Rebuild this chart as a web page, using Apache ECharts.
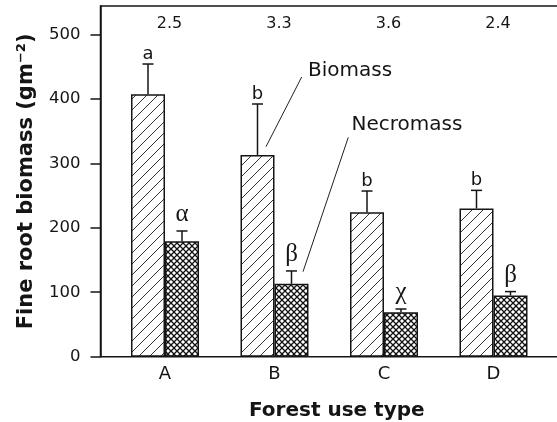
<!DOCTYPE html>
<html><head><meta charset="utf-8">
<script src="https://cdn.jsdelivr.net/npm/echarts@6/dist/echarts.min.js"></script>
<style>html,body{margin:0;padding:0;background:#fff}#c{width:557px;height:422px}</style>
</head><body><div id="c"></div>
<script>
const categories = ['A', 'B', 'C', 'D'];
const ratios = ['2.5', '3.3', '3.6', '2.4'];
const biomass = [407, 313, 224, 230];
const biomassSE = [47, 79, 33, 28];
const necromass = [179, 113, 69, 95];
const necromassSE = [16, 20, 5, 6];
const biomassLetters = ['a', 'b', 'b', 'b'];
const necromassLetters = ['α', 'β', 'χ', 'β'];
const yTicks = [0, 100, 200, 300, 400, 500];
const yMax = 544;

const FONT = 'DejaVu Sans';
const INK = '#151515';
const BAR_W = 34;

function hatchPattern() {
  const s = 11, c = document.createElement('canvas');
  c.width = s; c.height = s;
  const g = c.getContext('2d');
  g.fillStyle = '#fff'; g.fillRect(0, 0, s, s);
  g.strokeStyle = '#333'; g.lineWidth = 1;
  g.beginPath(); g.moveTo(-1, s + 1); g.lineTo(s + 1, -1); g.stroke();
  return c;
}
function crossPattern() {
  const s = 6, c = document.createElement('canvas');
  c.width = s; c.height = s;
  const g = c.getContext('2d');
  g.fillStyle = '#fff'; g.fillRect(0, 0, s, s);
  g.strokeStyle = '#111'; g.lineWidth = 1.3;
  g.beginPath();
  g.moveTo(-1, s + 1); g.lineTo(s + 1, -1);
  g.moveTo(-1, -1); g.lineTo(s + 1, s + 1);
  g.stroke();
  return c;
}

function errSeries(means, ses, letters, off, letterFont, lift) {
  return {
    type: 'custom', xAxisIndex: 1, yAxisIndex: 1, z: 5, silent: true,
    data: means.map((m, i) => [i, m, ses[i]]),
    renderItem: (params, api) => {
      const i = api.value(0), m = api.value(1), s = api.value(2);
      const p0 = api.coord([i, m]);
      const p1 = api.coord([i, m + s]);
      const x = p0[0] + off;
      return {
        type: 'group', children: [
          { type: 'line', shape: { x1: x, y1: p0[1], x2: x, y2: p1[1] }, style: { stroke: INK, lineWidth: 1.5 } },
          { type: 'line', shape: { x1: x - 5.5, y1: p1[1], x2: x + 5.5, y2: p1[1] }, style: { stroke: INK, lineWidth: 1.5 } },
          { type: 'text', x: x, y: p1[1] - lift, style: { text: letters[params.dataIndex], font: letterFont, align: 'center', verticalAlign: 'bottom', fill: INK } }
        ]
      };
    }
  };
}

const chart = echarts.init(document.getElementById('c'), null, { renderer: 'canvas' });
chart.setOption({
  animation: false,
  backgroundColor: '#fff',
  grid: [
    { left: 100.5, top: 6, width: 520, bottom: 65.3, show: true, borderColor: INK, borderWidth: 1.5, backgroundColor: 'transparent', outerBoundsMode: 'none', containLabel: false },
    { left: 110.25, top: 6, right: 8.75, bottom: 65.3, outerBoundsMode: 'none', containLabel: false }
  ],
  xAxis: [
    { gridIndex: 0, type: 'value', min: 0, max: 1, show: false },
    {
      gridIndex: 1, type: 'category', data: categories, position: 'bottom',
      axisLine: { show: false }, axisTick: { show: false }, splitLine: { show: false },
      axisLabel: { fontFamily: FONT, fontSize: 18, color: INK, margin: 9 },
      name: 'Forest use type', nameLocation: 'middle', nameGap: 44,
      nameTextStyle: { fontFamily: FONT, fontSize: 20, fontWeight: 'bold', color: INK, padding: [0, 0, 0, 15] }
    },
    {
      gridIndex: 1, type: 'category', data: ratios, position: 'top',
      axisLine: { show: false }, axisTick: { show: false }, splitLine: { show: false },
      axisLabel: { inside: true, fontFamily: FONT, fontSize: 16, color: INK, margin: 10, padding: [0, 0, 0, 9] }
    }
  ],
  yAxis: [
    {
      gridIndex: 0, type: 'value', min: 0, max: yMax, interval: 100,
      axisLine: { show: true, lineStyle: { color: INK, width: 1.5 } },
      axisTick: { show: true, length: 10, lineStyle: { color: INK, width: 1.5 }, customValues: yTicks },
      axisLabel: { fontFamily: FONT, fontSize: 16.5, color: INK, margin: 20, customValues: yTicks },
      splitLine: { show: false },
      name: 'Fine root biomass (gm⁻²)', nameLocation: 'middle', nameGap: 63, nameRotate: 90,
      nameTextStyle: { fontFamily: FONT, fontSize: 21, fontWeight: 'bold', color: INK }
    },
    { gridIndex: 1, type: 'value', min: 0, max: yMax, show: false }
  ],
  series: [
    {
      name: 'Biomass', type: 'bar', xAxisIndex: 1, yAxisIndex: 1, data: biomass,
      barWidth: BAR_W, barGap: '0%', silent: true,
      itemStyle: { color: { image: hatchPattern(), repeat: 'repeat' }, borderColor: INK, borderWidth: 1.5 }
    },
    {
      name: 'Necromass', type: 'bar', xAxisIndex: 1, yAxisIndex: 1, data: necromass,
      barWidth: BAR_W, barGap: '0%', silent: true,
      itemStyle: { color: { image: crossPattern(), repeat: 'repeat' }, borderColor: INK, borderWidth: 1.5 }
    },
    errSeries(biomass, biomassSE, biomassLetters, -BAR_W / 2, '18px "DejaVu Sans"', 1),
    errSeries(necromass, necromassSE, necromassLetters, BAR_W / 2, '25px "Liberation Serif"', 4)
  ],
  graphic: [
    { type: 'line', shape: { x1: 301.7, y1: 77, x2: 266, y2: 146.7 }, style: { stroke: '#222', lineWidth: 1 } },
    { type: 'text', x: 308, y: 71, style: { text: 'Biomass', font: '20px "DejaVu Sans"', fill: INK, align: 'left', verticalAlign: 'middle' } },
    { type: 'line', shape: { x1: 348.3, y1: 137.3, x2: 303, y2: 271.7 }, style: { stroke: '#222', lineWidth: 1 } },
    { type: 'text', x: 351.5, y: 125, style: { text: 'Necromass', font: '20px "DejaVu Sans"', fill: INK, align: 'left', verticalAlign: 'middle' } }
  ]
});
</script>
</body></html>
